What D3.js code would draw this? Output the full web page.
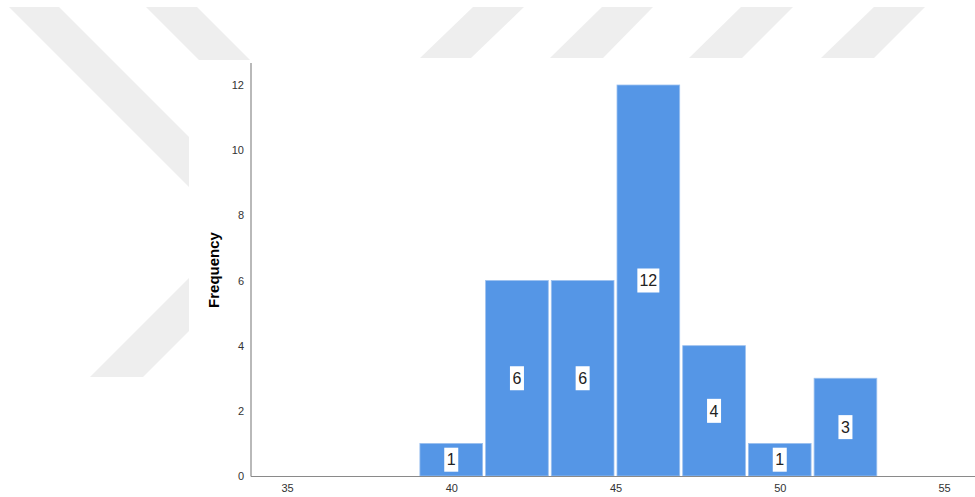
<!DOCTYPE html>
<html>
<head>
<meta charset="utf-8">
<script src="https://cdn.jsdelivr.net/npm/d3@7"></script>
<style>
  html, body { margin: 0; padding: 0; background: #fff; }
  svg { display: block; font-family: Arial, "Liberation Sans", sans-serif; }
</style>
</head>
<body>
<svg id="chart" width="975" height="497"></svg>
<script>
'use strict';
// histogram bins (lower edge), width 2
const binStarts = [39, 41, 43, 45, 47, 49, 51];
const binEnds = [41, 43, 45, 47, 49, 51, 53];
const counts = [1, 6, 6, 12, 4, 1, 3];
const xTicks = [35, 40, 45, 50, 55];
const yTicks = [0, 2, 4, 6, 8, 10, 12];

const svg = d3.select("#chart");

// faint watermark stripes behind the chart picture
const wm = svg.append("g").attr("fill", "#eeeeee");
const stripes = [
  [[9, 7], [59, 7], [320, 268], [270, 268]],
  [[146, 7], [197, 7], [260, 70], [209, 70]],
  [[473, 7], [524, 7], [471, 58], [420, 58]],
  [[602, 7], [653, 7], [603, 58], [550, 58]],
  [[741, 7], [793, 7], [742, 58], [689, 58]],
  [[874, 7], [925, 7], [874, 58], [821, 58]],
  [[90, 377], [143, 377], [260, 260], [207, 260]]
];
wm.selectAll("polygon")
  .data(stripes)
  .enter().append("polygon")
  .attr("points", d => d.map(p => p.join(",")).join(" "));

// the chart's own white canvas covers the watermark
svg.append("rect")
  .attr("x", 189).attr("y", 60)
  .attr("width", 975 - 189).attr("height", 497 - 60)
  .attr("fill", "#fff");

const x = d3.scaleLinear().domain([35, 55]).range([287, 944]);
const y = d3.scaleLinear().domain([0, 12]).range([476, 85]);

// bars
const bars = svg.append("g");
bars.selectAll("rect")
  .data(counts)
  .enter().append("rect")
  .attr("x", (d, i) => x(binStarts[i]) + 1.5)
  .attr("width", (d, i) => x(binEnds[i]) - x(binStarts[i]) - 3)
  .attr("y", d => y(d))
  .attr("height", d => y(0) - y(d))
  .attr("fill", "#5596e6")
  .attr("stroke", "#9cc0ef")
  .attr("stroke-width", 0.8);

// axes
svg.append("g")
  .attr("transform", "translate(251,0)")
  .call(d3.axisLeft(y).tickValues(yTicks).tickSize(0).tickPadding(7))
  .call(g => g.select(".domain").remove())
  .selectAll("text")
  .attr("font-size", 11)
  .attr("fill", "#333")
  .attr("font-family", "Arial, 'Liberation Sans', sans-serif");

svg.append("g")
  .attr("transform", "translate(0,476)")
  .call(d3.axisBottom(x).tickValues(xTicks).tickSize(0).tickPadding(8))
  .call(g => g.select(".domain").remove())
  .selectAll("text")
  .attr("font-size", 11)
  .attr("fill", "#333")
  .attr("font-family", "Arial, 'Liberation Sans', sans-serif");

svg.append("line")
  .attr("x1", 251).attr("x2", 251)
  .attr("y1", 63).attr("y2", 476.5)
  .attr("stroke", "#8a8a8a").attr("stroke-width", 1.2);
svg.append("line")
  .attr("x1", 251).attr("x2", 975)
  .attr("y1", 476.5).attr("y2", 476.5)
  .attr("stroke", "#8a8a8a").attr("stroke-width", 1.2);

// y-axis title
svg.append("text")
  .attr("transform", "translate(219,270) rotate(-90)")
  .attr("text-anchor", "middle")
  .attr("font-size", 15)
  .attr("font-weight", "bold")
  .attr("fill", "#000")
  .text("Frequency");

// count labels in white boxes
const lab = svg.append("g").selectAll("g")
  .data(counts)
  .enter().append("g")
  .attr("transform", (d, i) =>
    "translate(" + ((x(binStarts[i]) + x(binEnds[i])) / 2) + "," + ((y(d) + y(0)) / 2) + ")");
lab.append("rect")
  .attr("x", d => String(d).length > 1 ? -11 : -7)
  .attr("width", d => String(d).length > 1 ? 22 : 14)
  .attr("y", -12).attr("height", 24)
  .attr("fill", "#fff");
lab.append("text")
  .attr("text-anchor", "middle")
  .attr("dy", "0.36em")
  .attr("font-size", 16)
  .attr("fill", "#222")
  .text(d => d);
</script>
</body>
</html>
